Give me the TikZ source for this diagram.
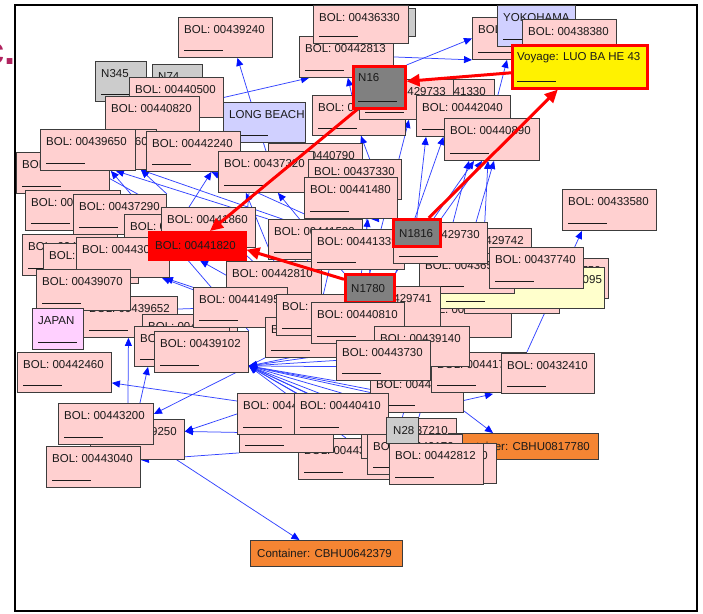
\documentclass[tikz,border=0pt]{standalone}
\usepackage{fontspec}
\setmainfont{Liberation Sans}
\usetikzlibrary{arrows.meta}
\pgfdeclarelayer{bg}
\pgfsetlayers{bg,main}
\definecolor{pinkf}{HTML}{FFD0D0}
\definecolor{lavf}{HTML}{D0D0FF}
\definecolor{japf}{HTML}{FFD0FF}
\definecolor{grayf}{HTML}{CCCCCC}
\definecolor{selg}{HTML}{808080}
\definecolor{orangef}{HTML}{F58533}
\definecolor{lyelf}{HTML}{FFFFCC}
\definecolor{bord}{HTML}{3C3C3C}
\definecolor{txt}{HTML}{1A1A1A}
\definecolor{edgeblue}{HTML}{3344FF}
\definecolor{headblue}{HTML}{0011FF}
\definecolor{titlec}{HTML}{B0235F}
\tikzset{
  bol/.style={draw=bord, fill=pinkf, line width=0.9pt, rectangle, inner sep=0pt},
  lav/.style={bol, fill=lavf},
  jap/.style={bol, fill=japf},
  gry/.style={bol, fill=grayf},
  lyel/.style={bol, fill=lyelf},
  cont/.style={bol, fill=orangef},
  sel/.style={draw=red, line width=2.6pt, fill=selg, rectangle, inner sep=0pt},
  voyst/.style={sel, fill=yellow},
  redbox/.style={draw=red, fill=red, line width=0.5pt, rectangle, inner sep=0pt},
  lbl/.style={anchor=base west, inner sep=0pt, text=txt, font=\fontsize{11.5}{13}\selectfont},
  uline/.style={draw=txt, line width=0.8pt},
  be/.style={draw=edgeblue, line width=0.75pt, -{Triangle[length=8pt,width=7pt,color=headblue]}},
  re/.style={draw=red, line width=3pt, -{Triangle[length=13pt,width=12pt]}},
  framest/.style={draw=black, line width=1.6pt},
}
% box with label and underline
\newcommand\mybx[7]{%
  \node[#1, minimum width=#5pt, minimum height=#6pt, anchor=north west] (#2) at (#3,#4) {};
  \node[lbl] (#2t) at ([xshift=6pt,yshift=-16.5pt]#2.north west) {#7};
  \draw[uline] ([xshift=6pt,yshift=8pt]#2.south west) -- ++(39pt,0);}
% single line box
\newcommand\mysx[7]{%
  \node[#1, minimum width=#5pt, minimum height=#6pt, anchor=north west] (#2) at (#3,#4) {};
  \node[lbl] (#2t) at ([xshift=7pt,yshift=-4.2pt]#2.west) {#7};}
\begin{document}
\begin{tikzpicture}[x=1pt,y=-1pt]
\useasboundingbox (0,0) rectangle (703,613);
\node[anchor=base east, inner sep=0pt, text=titlec, font=\fontsize{40}{44}\selectfont\bfseries] (ttl) at (16,64) {c.};
% ---------- top ----------
\mybx{gry}{g0}{360}{8}{55}{28}{N9}
\mybx{bol}{b42813}{299}{36}{94}{41}{BOL: 00442813}
\mybx{bol}{b36330}{313}{5}{95}{38}{BOL: 00436330}
\mybx{bol}{b39240}{178}{17}{94}{40}{BOL: 00439240}
\mybx{gry}{n345}{95}{61}{51}{40}{N345}
\mybx{gry}{n74}{152}{64}{50}{40}{N74}
\mybx{bol}{b40500}{129}{77}{94}{40}{BOL: 00440500}
\mybx{bol}{b40820}{105}{96}{94}{40}{BOL: 00440820}
\mybx{lav}{lb}{223}{102}{82}{40}{LONG BEACH}
\mybx{bol}{bA}{312}{95}{93}{40}{BOL: 00442350}
\mybx{bol}{b41330}{399}{79}{95}{40}{BOL: 00441330}
\mybx{bol}{b29733}{359}{79}{94}{40}{BOL: 00429733}
\mybx{sel}{n16}{352}{65}{52}{42}{N16}
\mybx{bol}{b42040}{416}{95}{94}{41}{BOL: 00442040}
\mybx{bol}{b40890}{444}{118}{95}{42}{BOL: 00440890}
\mybx{bol}{bBO}{472}{17}{95}{42}{BOL: 00438370}
\mybx{lav}{yoko}{497}{5}{78}{41}{YOKOHAMA}
\mybx{bol}{b38380}{522}{19}{94}{40}{BOL: 00438380}
\mybx{voyst}{voy}{511}{44}{135}{43}{Voyage: LUO BA HE 43}
% ---------- upper left ----------
\mybx{bol}{bL1}{16}{152}{93}{41}{BOL: 00443510}
\mybx{bol}{bH}{61}{129}{95}{40}{BOL: 00439660}
\mybx{bol}{b39650}{40}{129}{95}{41}{BOL: 00439650}
\mybx{bol}{b42240}{146}{131}{94}{40}{BOL: 00442240}
\mybx{bol}{b40790}{268}{143}{94}{40}{BOL: 00440790}
\mybx{bol}{b37320}{218}{151}{95}{41}{BOL: 00437320}
\mybx{bol}{b37330}{308}{159}{93}{40}{BOL: 00437330}
\mybx{bol}{b41480}{304}{177}{93}{41}{BOL: 00441480}
% ---------- middle left ----------
\mybx{bol}{bL2}{25}{190}{95}{40}{BOL: 00441200}
\mybx{bol}{b37290}{73}{194}{93}{40}{BOL: 00437290}
\mybx{bol}{bM1}{124}{214}{95}{40}{BOL: 00441110}
\mybx{bol}{b41860}{161}{207}{94}{40}{BOL: 00441860}
\mybx{bol}{bL3}{22}{234}{95}{41}{BOL: 00439330}
\mybx{bol}{bL4}{43}{243}{95}{40}{BOL: 00439440}
\mybx{bol}{b43000}{76}{237}{93}{40}{BOL: 00443000}
\mysx{redbox}{b41820}{148}{231}{98}{29}{BOL: 00441820}
\mybx{bol}{b42810}{226}{261}{95}{40}{BOL: 00442810}
\mybx{bol}{b39652}{83}{296}{94}{41}{BOL: 00439652}
\mybx{bol}{b39070}{36}{269}{94}{41}{BOL: 00439070}
\mybx{jap}{japan}{32}{308}{51}{41}{JAPAN}
\mybx{bol}{bM2}{142}{314}{95}{40}{BOL: 00439480}
\mybx{bol}{bM3}{134}{326}{95}{40}{BOL: 00439620}
\mybx{bol}{b41495}{193}{287}{94}{40}{BOL: 00441495}
\mybx{bol}{b39102}{154}{331}{94}{41}{BOL: 00439102}
\mybx{bol}{b42460}{17}{352}{94}{40}{BOL: 00442460}
\mybx{bol}{b41580}{268}{219}{94}{40}{BOL: 00441580}
\mybx{bol}{b41339}{311}{229}{93}{40}{BOL: 00441339}
\mybx{bol}{bC1}{265}{317}{94}{40}{BOL: 00441770}
\mybx{bol}{bC2}{276}{294}{94}{41}{BOL: 00440660}
% ---------- middle right ----------
\mybx{bol}{bR1}{514}{258}{94}{40}{BOL: 00437750}
\mybx{bol}{bR3}{416}{297}{95}{40}{BOL: 00437200}
\mybx{bol}{bR2}{464}{273}{95}{40}{BOL: 00437760}
\mybx{lyel}{yel}{440}{267}{164}{41}{Voyage: MSC CAROLINA 095}
\mybx{bol}{b29742}{437}{228}{94}{40}{BOL: 00429742}
\mybx{bol}{b36}{419}{253}{95}{40}{BOL: 00436540}
\mybx{bol}{b29730}{393}{222}{94}{41}{BOL: 00429730}
\mysx{sel}{n1816}{392}{218}{47}{27}{N1816}
\mybx{bol}{b37740}{489}{247}{94}{41}{BOL: 00437740}
\mybx{bol}{b33580}{562}{189}{94}{41}{BOL: 00433580}
\mybx{bol}{b29741}{345}{286}{95}{40}{BOL: 00429741}
\mysx{sel}{n1780}{344}{273}{49}{28}{N1780}
\mybx{bol}{b40810}{311}{302}{93}{41}{BOL: 00440810}
\mybx{bol}{b42x}{370}{372}{93}{40}{BOL: 00442930}
\mybx{bol}{b441}{431}{352}{95}{40}{BOL: 00441750}
\mybx{bol}{b39140}{374}{326}{95}{40}{BOL: 00439140}
\mybx{bol}{b43730}{336}{340}{94}{40}{BOL: 00443730}
\mybx{bol}{b32410}{501}{353}{93}{40}{BOL: 00432410}
% ---------- bottom ----------
\mybx{bol}{b43x}{298}{438}{95}{41}{BOL: 00443350}
\mybx{bol}{bD1}{239}{412}{94}{40}{BOL: 00441940}
\mybx{bol}{b41x}{237}{393}{95}{41}{BOL: 00441360}
\mybx{bol}{b37210}{361}{418}{95}{40}{BOL: 00437210}
\mybx{bol}{b40410}{294}{393}{94}{41}{BOL: 00440410}
\mysx{cont}{cont1}{448}{433}{150}{26}{Container: CBHU0817780}
\mybx{bol}{bBO2}{367}{434}{95}{40}{BOL: 00440170}
\mybx{bol}{b0}{401}{443}{95}{40}{BOL: 00443170}
\mysx{gry}{n28}{386}{417}{32}{26}{N28}
\mybx{bol}{b42812}{389}{443}{94}{41}{BOL: 00442812}
\mybx{bol}{b9250}{90}{419}{94}{40}{BOL: 00439250}
\mybx{bol}{b43200}{58}{403}{95}{41}{BOL: 00443200}
\mybx{bol}{b43040}{46}{446}{94}{41}{BOL: 00443040}
\mysx{cont}{cont2}{250}{540}{152}{26}{Container: CBHU0642379}
% ---------- blue edges (behind) ----------
\begin{pgfonlayer}{bg}
\fill[white] (0,0) rectangle (703,613);
\draw[framest] (15,5) rectangle (697,611);
\draw[be] (b37320.north) -- ([xshift=12pt]b39240.south);
\draw[be] (b40500.east) -- ([xshift=10pt]b42813.south west);
\draw[be] (b40790.north east) -- ([xshift=-46pt]b42813.south east);
\draw[be] (b41580.north west) -- ([xshift=-20pt]b39650.south east);
\draw[be] (b41339.north west) -- ([xshift=-16pt]bH.south east);
\draw[be] (b41580.north) -- ([xshift=18pt]b42240.south);
\draw[be] (b43000.north east) -- ([xshift=18pt]b42240.south);
\draw[be] (b37290.north east) -- ([xshift=-16pt]bH.south east);
\draw[be] (n1780.north west) -- ([xshift=12pt]b37320.south);
\draw[be] (n1816.north west) -- ([xshift=-45pt]bA.south east);
\draw[be] (n1780.north) -- ([xshift=-45pt]b29733.south east);
\draw[be] (b40890.north) -- ([xshift=35pt]bBO.south west);
\draw[be] (n1816.north east) -- ([xshift=38pt]b40890.south west);
\draw[be] (n1780.north east) -- ([xshift=30pt]b40890.south west);
\draw[be] (b29742.north) -- ([xshift=44pt]b40890.south west);
\draw[be] (n16.north east) -- (bBO.west);
\draw[be] (b42813.east) -- (bBO.south west);
\draw[be] (b441.north east) -- ([xshift=20pt]b33580.south west);
\draw[be] ([yshift=-8pt]b42x.east) -- ([xshift=-8pt]b32410.south west);
\draw[be] ([yshift=2pt]b42x.south east) -- ([xshift=45pt]cont1.north west);
\draw[be] ([yshift=-8pt]b41x.north west) -- ([yshift=10pt]b42460.south east);
\draw[be] (bC1.south west) -- ([yshift=10pt]b43200.east);
\draw[be] (b41x.west) -- ([yshift=8pt]b9250.east);
\draw[be] (bD1.west) -- ([yshift=8pt]b9250.east);
\draw[be] (bD1.south west) -- ([yshift=7pt]b43040.east);
\draw[be] (b43200.south east) -- ([xshift=-27pt]cont2.north);
\foreach \s in {n28.west, b40410.north east, b42x.west, b43730.south west, b40410.north, b37210.north west, bBO2.north west, b43x.north, b40810.south, b39140.south west, b42x.south west, n28.south west, b43730.west, b40810.south east}
  \draw[be] (\s) -- ([yshift=-14pt]b39102.east);
\draw[be] (b40810.west) -- ([xshift=52pt]b41820.south west);
\draw[be] (bC1.north west) -- ([xshift=-8pt]b43000.south east);
\draw[be] ([xshift=22pt]b43200.north) -- ([xshift=-2pt]b39652.south);
\draw[be] ([xshift=34pt]b43200.north) -- ([xshift=14pt]bM3.south west);
\draw[be] (n1780.north) -- ([xshift=10pt]b37330.south);
\draw[be] (n1816.north west) -- ([xshift=20pt]b41480.south);
\draw[be] (n1816.north) -- ([xshift=10pt]b42040.south west);
\draw[be] (n1780.north east) -- ([xshift=-20pt]b42040.south);
\draw[be] (b40810.north west) -- (b41480.south west);
\draw[be] (bC2.north) -- ([xshift=-10pt]b41480.south);
\draw[be] (b41495.north east) -- (b37320.south east);
\draw[be] (n28.north) -- ([xshift=25pt]b40890.south west);
\draw[be] (n28.north east) -- ([xshift=50pt]b40890.south west);
\draw[be] (b39102.north east) -- ([xshift=-25pt]b39650.south east);
\draw[be] (b41860.north west) -- ([xshift=-40pt]b39650.south east);
\draw[be] (b42810.north) -- ([xshift=-20pt]b37320.south);
\draw[be] (bC1.north) -- ([xshift=30pt]b41860.south);
\draw[be] (b41495.north) -- ([xshift=10pt]b42240.south east);
\draw[be] (b40810.north) -- ([xshift=-30pt]b41480.south east);
\draw[be] (n1780.south west) -- ([xshift=-10pt]b39070.south east);
\draw[be] (bC2.west) -- ([xshift=-5pt]b43000.south east);
\end{pgfonlayer}
% ---------- red edges (front) ----------
\draw[re] ([yshift=-6pt]voy.west) -- ([yshift=6pt]n16.east);
\draw[re] ([xshift=12pt]n1816.north) -- ([xshift=-22pt]voy.south);
\draw[re] ([xshift=5pt]n16.south west) -- ([xshift=62pt]b41820.north west);
\draw[re] ([yshift=9pt]n1780.west) -- ([yshift=-4pt]b41820.east);
\end{tikzpicture}
\end{document}
